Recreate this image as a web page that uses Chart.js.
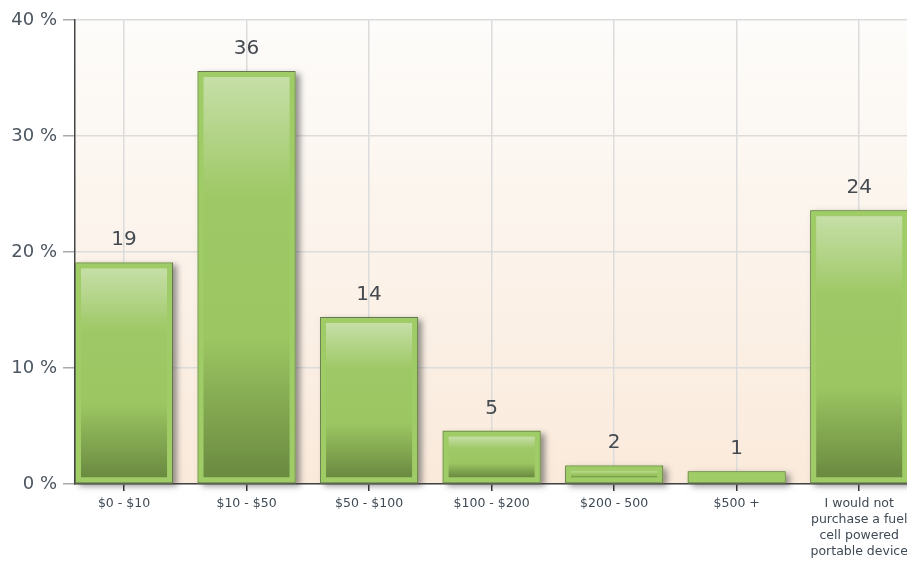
<!DOCTYPE html>
<html lang="en">
  <head>
    <meta charset="UTF-8" />
    <title>Price survey</title>
    <script src="https://cdn.jsdelivr.net/npm/chart.js"></script>
    <style>
      html, body { margin: 0; padding: 0; background: #fff; }
      #wrap { width: 907px; height: 563px; }
    </style>
  </head>
  <body>
    <div id="wrap"><canvas id="chart"></canvas></div>
    <script>
      // answers and how many people picked each
      const categories = [
        "$0 - $10",
        "$10 - $50",
        "$50 - $100",
        "$100 - $200",
        "$200 - 500",
        "$500 +",
        ["I would not", "purchase a fuel", "cell powered", "portable device"],
      ];
      const counts = [19, 36, 14, 5, 2, 1, 24];
      // bar heights
      const percents = [19.1, 35.6, 14.4, 4.6, 1.6, 1.1, 23.6];
      const yTicks = [0, 10, 20, 30, 40];

      const FONT = '"DejaVu Sans", Verdana, sans-serif';

      const areaBackground = {
        id: "areaBackground",
        beforeDraw(chart) {
          const { ctx, chartArea: a } = chart;
          const g = ctx.createLinearGradient(0, a.top, 0, a.bottom);
          g.addColorStop(0, "#fdfcfa");
          g.addColorStop(1, "#faeadb");
          ctx.save();
          ctx.fillStyle = g;
          ctx.fillRect(a.left, a.top, a.right - a.left, a.bottom - a.top);
          ctx.restore();
        },
      };

      // soft shadow behind each bar, drawn before the bars
      const barShadow = {
        id: "barShadow",
        beforeDatasetsDraw(chart) {
          const { ctx } = chart;
          const bars = chart.getDatasetMeta(0).data;
          ctx.save();
          ctx.shadowColor = "rgba(60,60,60,0.55)";
          ctx.shadowBlur = 6;
          ctx.shadowOffsetX = 4;
          ctx.shadowOffsetY = 3;
          ctx.fillStyle = "#9fcc66";
          bars.forEach((b) => {
            ctx.fillRect(b.x - b.width / 2, b.y, b.width, b.base - b.y);
          });
          ctx.restore();
        },
      };

      // inner gradient panel of each bar plus the count above it
      const barInner = {
        id: "barInner",
        afterDatasetsDraw(chart) {
          const { ctx } = chart;
          const bars = chart.getDatasetMeta(0).data;
          const inset = 6;
          ctx.save();
          bars.forEach((b, i) => {
            const left = b.x - b.width / 2 + inset;
            const top = b.y + inset;
            const w = b.width - inset * 2;
            const h = b.base - inset - top;
            if (h > 0) {
              const g = ctx.createLinearGradient(0, top, 0, top + h);
              g.addColorStop(0, "#c6dfa7");
              g.addColorStop(0.3, "#9ec865");
              g.addColorStop(0.65, "#9cc662");
              g.addColorStop(1, "#6a8a40");
              ctx.fillStyle = g;
              ctx.fillRect(left, top, w, h);
            }
            ctx.fillStyle = "#444a50";
            ctx.font = "20px " + FONT;
            ctx.textAlign = "center";
            ctx.textBaseline = "alphabetic";
            ctx.fillText(String(counts[i]), b.x, b.y - 17);
          });
          ctx.restore();
        },
      };

      new Chart(document.getElementById("chart"), {
        type: "bar",
        data: {
          datasets: [
            {
              data: percents.map((v, i) => ({ x: i, y: v })),
              backgroundColor: "#9fcc66",
              borderColor: "#66784f",
              borderWidth: 1,
              borderSkipped: false,
              barPercentage: 0.8,
              categoryPercentage: 1,
            },
          ],
        },
        options: {
          responsive: true,
          maintainAspectRatio: false,
          animation: false,
          events: [],
          layout: { padding: { top: 20, right: 0, left: 0, bottom: 0 } },
          plugins: {
            legend: { display: false },
            tooltip: { enabled: false },
          },
          scales: {
            x: {
              type: "linear",
              offset: false,
              bounds: "data",
              min: -0.4,
              max: 6.39,
              afterBuildTicks(scale) {
                scale.ticks = categories.map((c, i) => ({ value: i }));
              },
              afterFit(scale) {
                scale.height = 79;
                scale.paddingLeft = 0;
                scale.paddingRight = 0;
              },
              ticks: {
                autoSkip: false,
                maxRotation: 0,
                minRotation: 0,
                padding: 5,
                color: "#3f4a55",
                font: { family: FONT, size: 12.5, lineHeight: 1.28 },
                callback: (v) => categories[v],
              },
              grid: {
                offset: false,
                color: "#dcdcdc",
                lineWidth: 1.5,
                tickColor: "#333",
                tickLength: 7,
              },
              border: { color: "#444", width: 1.5 },
            },
            y: {
              min: 0,
              max: 40,
              afterBuildTicks(scale) {
                scale.ticks = yTicks.map((v) => ({ value: v }));
              },
              afterFit(scale) {
                scale.width = 75;
              },
              ticks: {
                padding: 6,
                color: "#4a5560",
                font: { family: FONT, size: 18 },
                callback: (v) => v + " %",
              },
              grid: {
                color: "#dcdcdc",
                lineWidth: 1.5,
                tickColor: "#aaa",
                tickLength: 12,
              },
              border: { color: "#444", width: 1.5 },
            },
          },
        },
        plugins: [areaBackground, barShadow, barInner],
      });
    </script>
  </body>
</html>
